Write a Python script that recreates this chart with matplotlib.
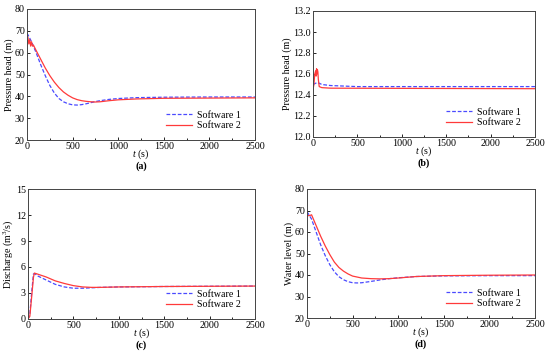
import matplotlib.pyplot as plt
from matplotlib.ticker import MultipleLocator

plt.rcParams['font.family'] = ['Liberation Serif', 'DejaVu Serif']
plt.rcParams['mathtext.fontset'] = 'custom'
plt.rcParams['mathtext.it'] = 'Liberation Serif:italic'
plt.rcParams['mathtext.rm'] = 'Liberation Serif'

BLUE = '#4a4aff'
RED = '#ff3a3a'

# (a) pressure head
t_a1 = [0, 50, 100, 150, 200, 250, 300, 350, 400, 450, 500, 550, 600, 650, 700, 750, 800, 900, 1000, 1200, 1500, 2000, 2500]
h_a1 = [69, 65, 60, 54.5, 49.5, 45, 41.5, 39, 37.5, 36.6, 36.1, 36.0, 36.2, 36.6, 37.1, 37.6, 38, 38.6, 39.0, 39.4, 39.6, 39.7, 39.7]
t_a2 = [0, 10, 20, 30, 40, 50, 60, 70, 100, 150, 200, 250, 300, 350, 400, 450, 500, 550, 600, 650, 700, 750, 800, 900, 1000, 1200, 1500, 2000, 2500]
h_a2 = [68, 67, 64, 66, 63, 65, 63, 63.5, 61, 57, 53, 49.5, 46.5, 44, 42, 40.5, 39.3, 38.5, 38, 37.7, 37.5, 37.4, 37.5, 38, 38.4, 38.8, 39.1, 39.2, 39.3]

# (b) pressure head
t_b1 = [0, 50, 100, 200, 500, 2500]
h_b1 = [12.50, 12.52, 12.50, 12.49, 12.48, 12.48]
t_b2 = [0, 10, 20, 30, 35, 40, 45, 50, 55, 60, 70, 100, 200, 2500]
h_b2 = [12.45, 12.50, 12.60, 12.63, 12.58, 12.65, 12.60, 12.64, 12.62, 12.55, 12.48, 12.47, 12.465, 12.46]

# (c) discharge
t_c1 = [0, 20, 40, 60, 80, 100, 200, 300, 400, 500, 600, 700, 800, 1000, 1500, 2500]
q_c1 = [0, 0.5, 3, 5.2, 5.2, 5.0, 4.5, 4.0, 3.7, 3.55, 3.55, 3.6, 3.65, 3.7, 3.75, 3.8]
t_c2 = [0, 20, 40, 60, 70, 100, 200, 300, 400, 500, 600, 700, 800, 1000, 1500, 2500]
q_c2 = [0, 0.3, 2.5, 4.8, 5.3, 5.2, 4.85, 4.4, 4.1, 3.85, 3.7, 3.65, 3.65, 3.7, 3.75, 3.8]

# (d) water level
t_d1 = [0, 50, 100, 150, 200, 250, 300, 350, 400, 450, 500, 550, 600, 700, 800, 900, 1000, 1200, 1500, 2000, 2500]
z_d1 = [69.5, 66, 60, 54, 49, 44.8, 41.5, 39.2, 37.8, 36.9, 36.4, 36.3, 36.4, 37, 37.7, 38.3, 38.7, 39.3, 39.6, 39.7, 39.7]
t_d2 = [0, 40, 50, 100, 150, 200, 250, 300, 350, 400, 450, 500, 600, 700, 800, 900, 1000, 1200, 1500, 2000, 2500]
z_d2 = [67.5, 67.8, 68, 63, 58, 53.5, 49.5, 46, 43.5, 41.8, 40.5, 39.5, 38.6, 38.3, 38.2, 38.3, 38.6, 39.3, 39.7, 39.9, 40]

fig = plt.figure(figsize=(5.5, 3.59), dpi=100)
W, H = 550, 359
FS = 7.2

panels = [
    # left, top, right, bottom in pixels
    ((27, 9, 255, 140), t_a1, h_a1, t_a2, h_a2, (20, 80), 10, 'Pressure head (m)', '(a)', '%d'),
    ((313, 11, 535, 137), t_b1, h_b1, t_b2, h_b2, (12.0, 13.2), 0.2, 'Pressure head (m)', '(b)', '%.1f'),
    ((28, 189, 255, 319), t_c1, q_c1, t_c2, q_c2, (0, 15), 3, 'Discharge (m$^3$/s)', '(c)', '%d'),
    ((307, 189, 535, 318), t_d1, z_d1, t_d2, z_d2, (20, 80), 10, 'Water level (m)', '(d)', '%d'),
]

for (l, t, r, b), x1, y1, x2, y2, ylim, ystep, ylab, tag, fmt in panels:
    ax = fig.add_axes([l / W, 1 - b / H, (r - l) / W, (b - t) / H])
    ax.plot(x1, y1, '--', color=BLUE, lw=0.9, label='Software 1', dashes=(3, 1.5))
    ax.plot(x2, y2, '-', color=RED, lw=0.9, label='Software 2')
    ax.set_xlim(0, 2500)
    ax.set_ylim(*ylim)
    ax.xaxis.set_major_locator(MultipleLocator(500))
    ax.xaxis.set_minor_locator(MultipleLocator(250))
    ax.yaxis.set_major_locator(MultipleLocator(ystep))
    ax.yaxis.set_major_formatter(plt.FormatStrFormatter(fmt))
    ax.tick_params(direction='in', labelsize=FS, length=2.5, width=0.6, pad=1.5)
    ax.tick_params(which='minor', direction='in', length=1.5, width=0.6)
    for sp in ax.spines.values():
        sp.set_color('#444444')
        sp.set_linewidth(0.7)
    ax.set_ylabel(ylab, fontsize=FS, labelpad=1)
    ax.set_xlabel('$t$ (s)', fontsize=FS, labelpad=-2.5)
    ax.legend(loc='lower right', bbox_to_anchor=(0.97, 0.02), frameon=False,
              fontsize=FS, handlelength=2.6, handletextpad=0.5, labelspacing=0.15, borderpad=0.2)
    cx = (l + r) / 2 / W
    fig.text(cx, 1 - (b + 26) / H, tag, ha='center', va='center', fontsize=FS, fontweight='bold')

fig.savefig('out.png', dpi=100)
